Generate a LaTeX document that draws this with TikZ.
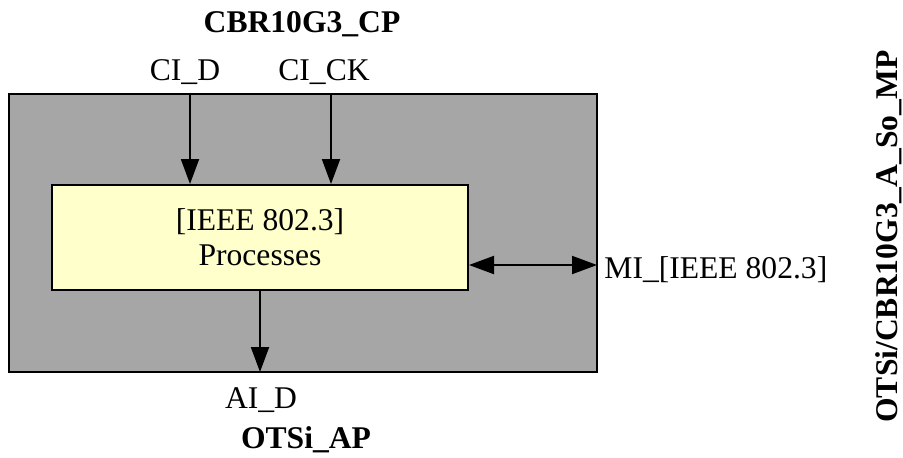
\documentclass[tikz,border=0pt]{standalone}
\usepackage{fontspec}
\setmainfont{Liberation Serif}
\usetikzlibrary{arrows.meta}
\usetikzlibrary{positioning}

\definecolor{outergray}{RGB}{166,166,166}
\definecolor{procyellow}{RGB}{255,255,204}

\begin{document}
\begin{tikzpicture}[
  x=0.5pt, y=-0.5pt,
  every node/.style={font=\fontsize{15.8}{17.5}\selectfont, inner sep=0},
  outer/.style={draw, line width=1pt, fill=outergray, minimum width=294pt, minimum height=139pt},
  inner/.style={draw, line width=1pt, fill=procyellow, align=center, minimum width=208pt, minimum height=52.5pt},
  lbl/.style={anchor=base},
  ttl/.style={anchor=base, font=\fontsize{15.8}{17.5}\selectfont\bfseries},
  ar/.style={line width=1pt, -{Triangle[length=12.5pt,width=9pt]}},
  dar/.style={line width=1pt, {Triangle[length=12.5pt,width=9pt]}-{Triangle[length=12.5pt,width=9pt]}}
  ]
    \useasboundingbox (0,0) rectangle (903,457);
    % function block
    \node[outer] (box) at (303,233) {};
    \node[inner] (proc) at (260,237.5) {[IEEE 802.3]\\Processes};
    % points
    \node[ttl] (cp) at (302,32) {CBR10G3\_CP};
    \node[lbl] (cid) at (185,80) {CI\_D};
    \node[lbl] (cick) at (324,80) {CI\_CK};
    \node[lbl] (aid) at (261,408) {AI\_D};
    \node[ttl] (ap) at (306,448) {OTSi\_AP};
    \node[lbl, anchor=base west] (mi) at (604,278) {MI\_[IEEE 802.3]};
    \node[ttl, rotate=90] (mp) at (897,236.5) {OTSi/CBR10G3\_A\_So\_MP};
    \coordinate (cidtop) at (190,94);
    \coordinate (cicktop) at (331,94);
    \coordinate (aidbot) at (260,372);
    \coordinate (miend) at (597,265);
    \draw[ar] (cidtop) -- (cidtop |- proc.north);
    \draw[ar] (cicktop) -- (cicktop |- proc.north);
    \draw[ar] (aidbot |- proc.south) -- (aidbot);
    \draw[dar] (miend -| proc.east) -- (miend);
\end{tikzpicture}
\end{document}
